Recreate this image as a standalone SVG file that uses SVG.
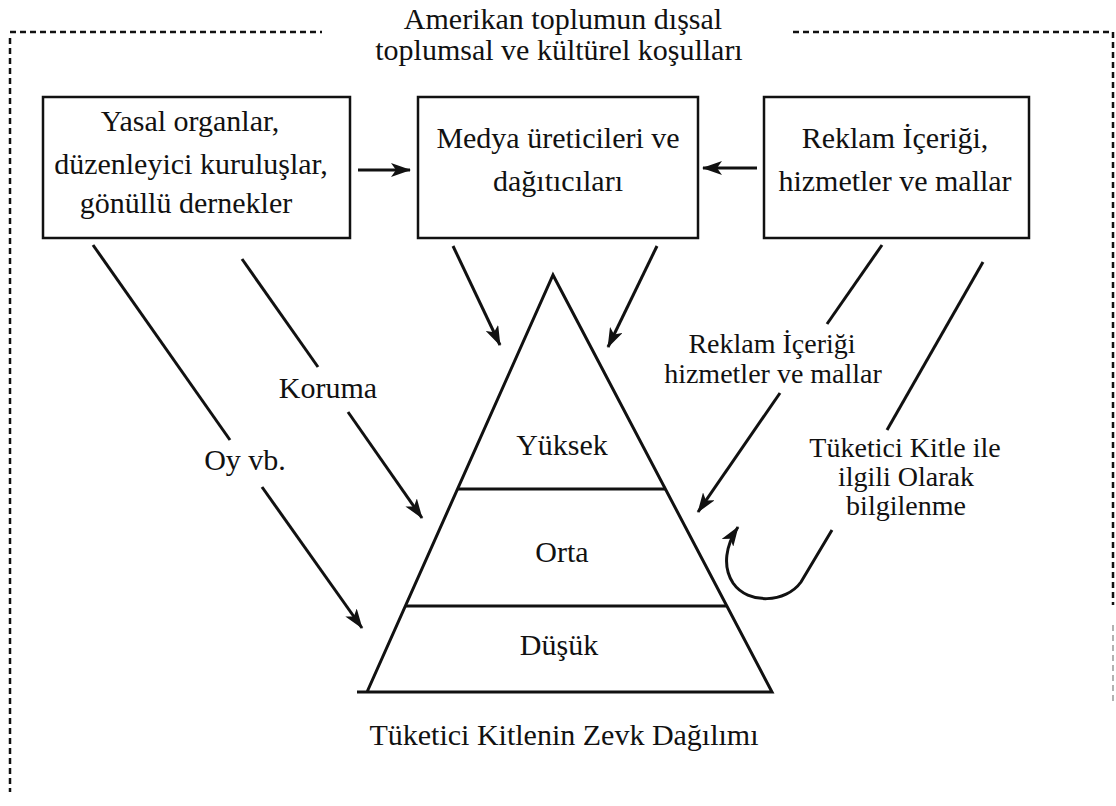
<svg xmlns="http://www.w3.org/2000/svg" width="1116" height="806" viewBox="0 0 1116 806">
<style>
text{font-family:"Liberation Serif","Times New Roman",serif;font-size:30px;fill:#111;text-anchor:middle}
.sm{font-size:28px}
.box{fill:#fff;stroke:#111;stroke-width:2.5}
.ln{fill:none;stroke:#111;stroke-width:3}
.arr{fill:none;stroke:#111;stroke-width:3;marker-end:url(#ah)}
.dash{fill:none;stroke:#111;stroke-width:2.5;stroke-dasharray:6 4}
.tri{fill:none;stroke:#111;stroke-width:3;stroke-linejoin:miter}
</style>
<defs>
<marker id="ah" viewBox="0 0 20 14" refX="19" refY="7" markerWidth="20" markerHeight="14" markerUnits="userSpaceOnUse" orient="auto">
<path d="M0,0 L20,7 L0,14 L5,7 z" fill="#111"/>
</marker>
</defs>
<rect width="1116" height="806" fill="#fff"/>
<g id="frame">
<path class="dash" d="M10,32 L322,32 M10,38 L10,792 M793,32 L1113,32 L1113,605"/>
<path class="dash" d="M1113,625 L1113,705" style="stroke:#999;stroke-width:1.5"/>
<text x="563" y="29">Amerikan toplumun dışsal</text>
<text x="559" y="60">toplumsal ve kültürel koşulları</text>
</g>
<g id="box-yasal">
<rect class="box" x="43" y="97" width="307" height="141"/>
<text x="190" y="131">Yasal organlar,</text>
<text x="191" y="174">düzenleyici kuruluşlar,</text>
<text x="186" y="213">gönüllü dernekler</text>
</g>
<g id="box-medya">
<rect class="box" x="418" y="97" width="280" height="141"/>
<text x="558" y="148">Medya üreticileri ve</text>
<text x="558" y="191">dağıtıcıları</text>
</g>
<g id="box-reklam">
<rect class="box" x="764" y="97" width="265" height="141"/>
<text x="895" y="148">Reklam İçeriği,</text>
<text x="895" y="191">hizmetler ve mallar</text>
</g>
<g id="pyramid">
<path class="tri" d="M553,275 L772,692 L357,692 L367,692 Z"/>
<line class="ln" x1="458" y1="489" x2="665" y2="489"/>
<line class="ln" x1="405" y1="606" x2="726" y2="606"/>
<text x="562" y="455">Yüksek</text>
<text x="562" y="562">Orta</text>
<text x="559" y="655">Düşük</text>
<text x="564" y="745">Tüketici Kitlenin Zevk Dağılımı</text>
</g>
<g id="connectors">
<line class="arr" x1="358" y1="170" x2="410" y2="170"/>
<line class="arr" x1="757" y1="168" x2="703" y2="168"/>
<line class="arr" x1="453" y1="246" x2="500" y2="345"/>
<line class="arr" x1="657" y1="246" x2="608" y2="347"/>
<line class="ln" x1="93" y1="245" x2="230" y2="440"/>
<line class="arr" x1="262" y1="487" x2="362" y2="628"/>
<line class="ln" x1="242" y1="259" x2="318" y2="367"/>
<line class="arr" x1="348" y1="412" x2="422" y2="518"/>
<line class="ln" x1="882" y1="245" x2="827" y2="324"/>
<line class="arr" x1="780" y1="393" x2="698" y2="512"/>
<line class="ln" x1="983" y1="262" x2="887" y2="430"/>
<path class="arr" d="M832,530 L801,582 C786,603 748,605 733,583 C722,566 726,545 738,527"/>
</g>
<g id="labels">
<text x="328" y="398">Koruma</text>
<text x="245" y="470">Oy vb.</text>
<text class="sm" x="772" y="353">Reklam İçeriği</text>
<text class="sm" x="773" y="383">hizmetler ve mallar</text>
<text class="sm" x="905" y="457">Tüketici Kitle ile</text>
<text class="sm" x="906" y="486">ilgili Olarak</text>
<text class="sm" x="906" y="515">bilgilenme</text>
</g>
</svg>
